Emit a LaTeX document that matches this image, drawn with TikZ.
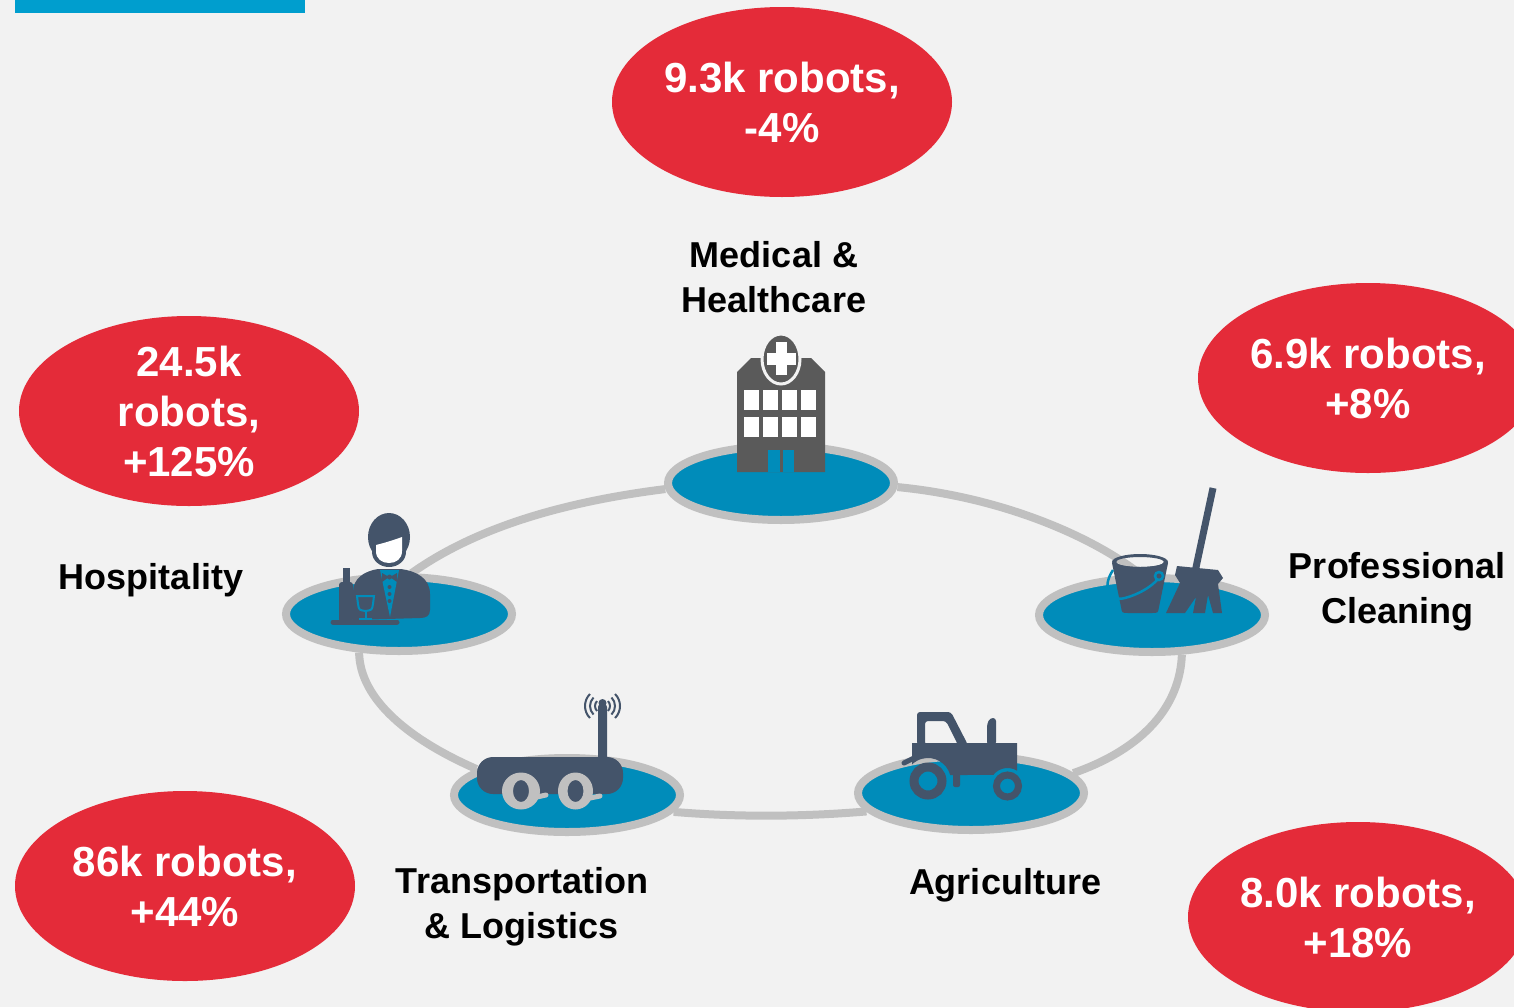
\documentclass[tikz,border=0pt]{standalone}
\usepackage{fontspec}
\setmainfont{Liberation Sans}
\usetikzlibrary{shapes.geometric}
\definecolor{bgc}{HTML}{F2F2F2}
\definecolor{redc}{HTML}{E42B39}
\definecolor{platc}{HTML}{008CBA}
\definecolor{rimc}{HTML}{C0C0C0}
\definecolor{darkc}{HTML}{44546A}
\definecolor{grayc}{HTML}{5A5A5A}
\definecolor{barc}{HTML}{009ECE}
\pgfdeclarelayer{bgl}
\pgfdeclarelayer{ringl}
\pgfsetlayers{bgl,ringl,main}
\begin{document}
\begin{tikzpicture}[x=1pt,y=-1pt,
  bubble/.style={ellipse, fill=redc, minimum width=340pt, minimum height=190pt, inner sep=0pt, text=white, font=\bfseries\fontsize{42}{50}\selectfont, align=center},
  plat/.style={ellipse, fill=platc, draw=rimc, line width=8pt, minimum width=226pt, minimum height=74pt, inner sep=0pt},
  lbl/.style={font=\bfseries\fontsize{36}{45}\selectfont, align=center, text=black, inner sep=0pt},
  ring/.style={draw=rimc, line width=8pt},
  dk/.style={fill=darkc}]
\useasboundingbox (0,0) rectangle (1514,1007);
\begin{pgfonlayer}{bgl}
  \fill[bgc] (0,0) rectangle (1514,1007);
  \fill[barc] (15,0) rectangle (305,13);
\end{pgfonlayer}

% platforms
\node[plat] (ptop) at (781,483) {};
\node[plat] (phosp) at (399,614) {};
\node[plat] (pclean) at (1152,615) {};
\node[plat] (ptrans) at (567,795) {};
\node[plat] (pagri) at (971,793) {};

% ring connectors
\begin{pgfonlayer}{ringl}
  \draw[ring] (ptop.183) .. controls (562,502) and (475,528) .. (phosp.73);
  \draw[ring] (ptop.-2) .. controls (1000,497) and (1090,535) .. (pclean.106);
  \draw[ring] (pclean.-53) .. controls (1180,705) and (1145,748) .. (pagri.11);
  \draw[ring] (pagri.190) .. controls (800,817) and (735,817) .. (ptrans.-9);
  \draw[ring] (ptrans.164) .. controls (410,740) and (360,700) .. (phosp.224);
\end{pgfonlayer}

% bubbles
\node[bubble] (b1) at (782,102) {9.3k robots,\\-4\%};
\node[bubble] (b2) at (1368,378) {6.9k robots,\\+8\%};
\node[bubble] (b3) at (189,411) {24.5k\\robots,\\+125\%};
\node[bubble] (b4) at (185,886) {86k robots,\\+44\%};
\node[bubble] (b5) at (1358,917) {8.0k robots,\\+18\%};

% labels
\node[lbl] (l1) at (774,277) {Medical \&\\Healthcare};
\node[lbl] (l2) at (151,580) {Hospitality};
\node[lbl] (l3) at (1397,592) {Professional\\Cleaning};
\node[lbl] (l4) at (522,907) {Transportation\\\& Logistics};
\node[lbl] (l5) at (1005,885) {Agriculture};

% hospital icon
\fill[grayc] (737,472) -- (737,372) -- (751,358) -- (811,358) -- (825,372) -- (825,472) -- cycle;
\fill[platc] (768,450) rectangle (794,472);
\fill[grayc] (779.5,450) rectangle (782.5,472);
\foreach \xx in {744,763,782,801}{
  \foreach \yy in {390,417}{
    \fill[white] (\xx,\yy) rectangle ++(15,20);
  }
}
\draw[bgc, line width=3pt, fill=grayc] (781,359) ellipse [x radius=19, y radius=25];
\fill[white] (776,342) rectangle (787,375);
\fill[white] (767,353) rectangle (796,365);

% waiter icon
\fill[dk] (353,620) -- (353,592) .. controls (353,578) and (365,571) .. (378,569) -- (401,569) .. controls (416,571) and (430,578) .. (430,594) -- (430,610) .. controls (430,616) and (426,618) .. (420,618) -- cycle;
\fill[platc] (380,570) -- (399,570) -- (390,617) -- cycle;
\fill[dk] (382,573) -- (389,577) -- (382,582) -- cycle;
\fill[dk] (397,573) -- (390,577) -- (397,582) -- cycle;
\fill[dk] (389.5,577) circle (2.5);
\foreach \yy in {587,594,601}{ \fill[dk] (389.5,\yy) circle (2); }
\fill[dk] (389,537) ellipse [x radius=21, y radius=24];
\fill[dk] (389,552) ellipse [x radius=17, y radius=15];
\fill[white] (376,545) .. controls (384,543) and (394,540) .. (402,537) -- (402,551) .. controls (402,559) and (396,563) .. (389,563) .. controls (382,563) and (376,559) .. (376,551) -- cycle;
\fill[dk] (343,568) rectangle (350,585);
\fill[dk, rounded corners=3pt] (339,582) rectangle (353,622);
\draw[platc, line width=2pt, fill=darkc] (357,596) -- (374,596) -- (373,604) .. controls (372,610) .. (365.5,611) .. controls (359,610) .. (358,604) -- cycle;
\draw[platc, line width=2pt] (365.5,611) -- (365.5,619) (359,619) -- (372,619);
\draw[darkc, line width=5pt, line cap=round] (333,622) -- (397,622);

% cleaning icon
\fill[dk, even odd rule] (1140,562) ellipse [x radius=28, y radius=8] (1140,562) ellipse [x radius=24, y radius=5];
\fill[dk] (1112,563) -- (1121,607) .. controls (1122,613) .. (1128,613) -- (1152,613) .. controls (1158,613) .. (1159,607) -- (1168,563) -- (1164,562) arc[start angle=0, end angle=180, x radius=24, y radius=5] -- cycle;
\draw[platc, line width=2.5pt] (1113,570) .. controls (1101,588) and (1110,602) .. (1125,598) .. controls (1140,594) and (1152,586) .. (1158,579);
\draw[platc, line width=2.5pt] (1159,576) circle (4);
\draw[darkc, line width=7pt] (1213,488) -- (1195,572);
\fill[dk] (1177,566) -- (1218,570) -- (1223,578) -- (1218,584) -- (1222,613) -- (1213,613) -- (1208,595) -- (1205,613) -- (1193,613) -- (1196,597) -- (1185,613) -- (1166,613) -- (1180,583) -- (1175,575) -- cycle;

% transport robot icon
\fill[dk, rounded corners=16pt] (477,757) rectangle (623,794);
\fill[dk, rounded corners=3pt] (598,704) rectangle (607,760);
\fill[dk] (602.5,703) circle (4);
\foreach \rr in {7,12,17}{
  \draw[darkc, line width=2pt] (602,706) ++(135:\rr) arc[start angle=135, end angle=225, radius=\rr];
  \draw[darkc, line width=2pt] (603,706) ++(-45:\rr) arc[start angle=-45, end angle=45, radius=\rr];
}
\fill[dk] (521,791) ellipse [x radius=9, y radius=12];
\fill[dk] (575.5,791) ellipse [x radius=9, y radius=12];
\fill[rimc, even odd rule] (521,791) ellipse [x radius=19, y radius=18.5] (521,791) ellipse [x radius=8, y radius=11];
\fill[rimc, even odd rule] (575.5,791) ellipse [x radius=17.5, y radius=18.5] (575.5,791) ellipse [x radius=8, y radius=11];
\draw[rimc, line width=5pt, line cap=round] (537,797) -- (546,795);
\draw[rimc, line width=5pt, line cap=round] (590,798) -- (600,796);

% tractor icon
\fill[dk, even odd rule, rounded corners=3pt] (917,745) -- (917,712) -- (951,712) -- (968,745) -- cycle (925,745) -- (925,721) -- (946,721) -- (958,745) -- cycle;
\fill[dk, rounded corners=3pt] (987,745) -- (987,724) -- (990,718) -- (996,718) -- (996,745) -- cycle;
\fill[dk] (912,743) -- (1017,743) -- (1017,770.7) arc[start angle=-58.2, end angle=-142.2, radius=18] -- (950.2,775) arc[start angle=-15.1, end angle=-134, radius=23] -- cycle;
\draw[darkc, line width=5pt, line cap=round] (914,758) -- (904,763);
\fill[dk, rounded corners=2pt] (953,772) rectangle (960,787);
\draw[darkc, line width=9pt] (928,781) circle (14);
\draw[darkc, line width=7pt] (1007.5,786) circle (11);
\end{tikzpicture}
\end{document}
